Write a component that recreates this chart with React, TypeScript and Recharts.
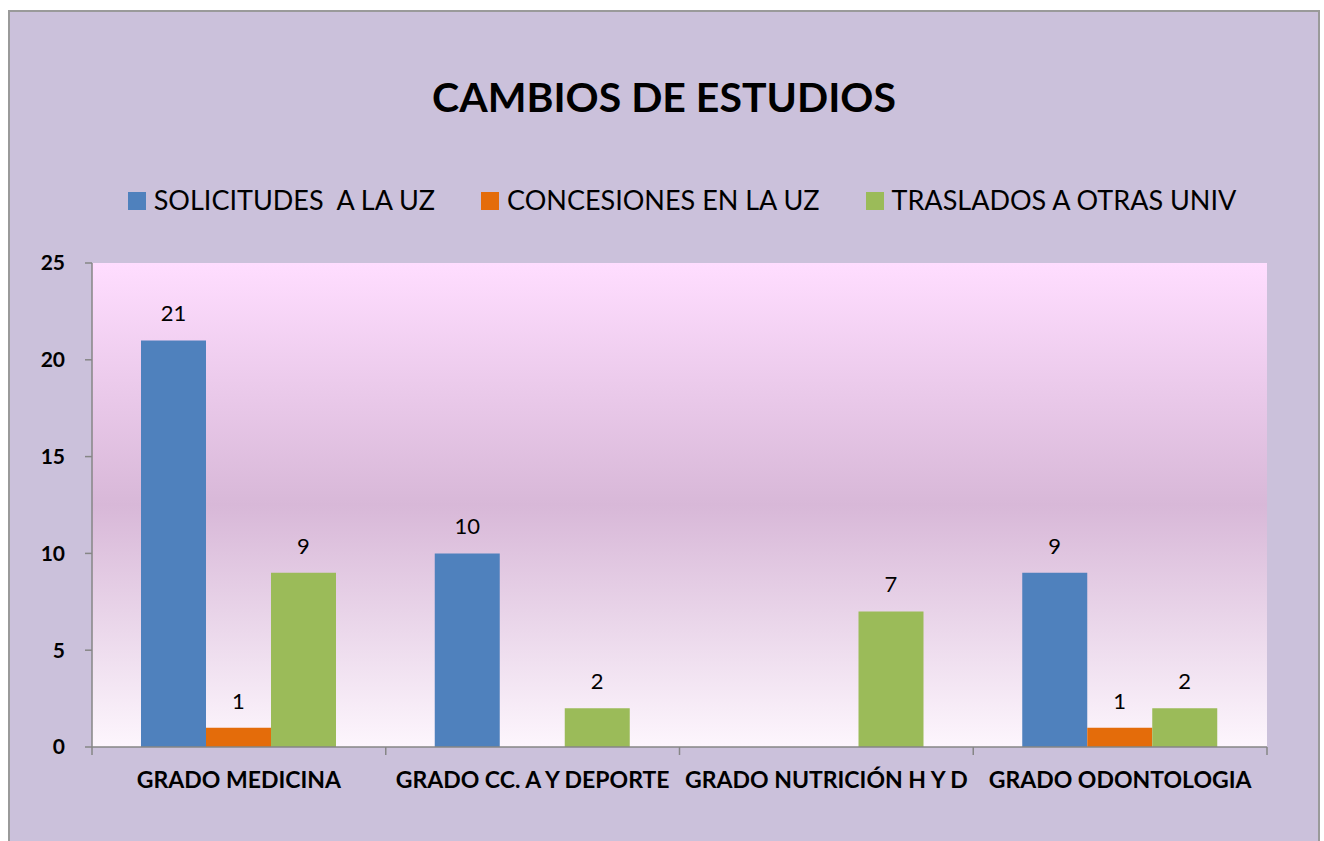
import React from 'react'
import { BarChart, Bar, XAxis, YAxis, CartesianGrid, Legend, LabelList } from 'recharts'

const categories = ['GRADO MEDICINA', 'GRADO CC. A Y DEPORTE', 'GRADO NUTRICIÓN H Y D', 'GRADO ODONTOLOGIA']
const solicitudes = [21, 10, null, 9]
const concesiones = [1, null, null, 1]
const traslados = [9, 2, 7, 2]
const yTicks = [0, 5, 10, 15, 20, 25]

const seriesNames = ['SOLICITUDES  A LA UZ', 'CONCESIONES EN LA UZ', 'TRASLADOS A OTRAS UNIV']
const colors = ['#4F81BD', '#E46C0A', '#9BBB59']

const data = categories.map((name, i) => ({
  name,
  solicitudes: solicitudes[i],
  concesiones: concesiones[i],
  traslados: traslados[i],
}))

const W = 1308
const H = 832
const legendH = 27
// legend sits in the top margin, recharts adds its height on top of this
const margin = { top: 251 - legendH, right: 51, left: 0, bottom: 40 }
const yAxisWidth = 82
const plotWidth = W - margin.left - margin.right - yAxisWidth
const band = plotWidth / categories.length
const font = 'Lato, "Open Sans", sans-serif'
const axisColor = '#868686'

// Excel-style ticks: marks sit between categories, label in the middle
const CategoryTick = (props: any) => {
  const { x, y, payload, index } = props
  const left = x - band / 2
  return (
    <g>
      <line x1={left} y1={y} x2={left} y2={y + 8} stroke={axisColor} strokeWidth={1.5} />
      {index === categories.length - 1 && (
        <line x1={x + band / 2} y1={y} x2={x + band / 2} y2={y + 8} stroke={axisColor} strokeWidth={1.5} />
      )}
      <text x={x} y={y + 41} textAnchor="middle" fontFamily={font} fontWeight={700} fontSize={23} fill="#000">
        {payload.value}
      </text>
    </g>
  )
}

const renderLegend = () => (
  <div style={{ display: 'flex', justifyContent: 'center', gap: 46, fontFamily: font, fontSize: 27, lineHeight: 1, paddingLeft: 36, height: legendH }}>
    {seriesNames.map((n, i) => (
      <span key={n} style={{ whiteSpace: 'pre', color: '#000' }}>
        <span style={{ display: 'inline-block', width: 18, height: 18, background: colors[i], marginRight: 8 }} />
        {n}
      </span>
    ))}
  </div>
)

const hideEmpty = (v: any) => (v === null || v === undefined ? '' : v)
const labelStyle = { fontFamily: font, fontSize: 22, fill: '#000' }

export default function App() {
  return (
    <div
      style={{
        position: 'fixed',
        left: 8,
        top: 10,
        width: W,
        height: 840,
        background: '#CBC1DB',
        borderLeft: '2px solid #9A9A9A',
        borderTop: '2px solid #9A9A9A',
        borderRight: '2px solid #9A9A9A',
      }}
    >
      <div style={{ position: 'relative', width: W, height: H }}>
        <div
          style={{
            position: 'absolute',
            top: 64,
            left: 0,
            width: W,
            textAlign: 'center',
            fontFamily: font,
            fontWeight: 700,
            fontSize: 41,
            lineHeight: 1,
            color: '#000',
            zIndex: 2,
          }}
        >
          CAMBIOS DE ESTUDIOS
        </div>
        <BarChart width={W} height={H} data={data} margin={margin} barCategoryGap={49} barGap={0}>
          <defs>
            <linearGradient id="plotBg" x1="0" y1="0" x2="0" y2="1">
              <stop offset="0%" stopColor="#FFDDFF" />
              <stop offset="50%" stopColor="#D8B8D8" />
              <stop offset="100%" stopColor="#FDF6FD" />
            </linearGradient>
          </defs>
          <CartesianGrid horizontal={false} vertical={false} fill="url(#plotBg)" />
          <XAxis
            dataKey="name"
            axisLine={{ stroke: axisColor, strokeWidth: 1.5 }}
            tickLine={false}
            tickSize={0}
            tickMargin={0}
            height={H - 251 - margin.bottom - 484}
            interval={0}
            tick={<CategoryTick />}
          />
          <YAxis
            width={yAxisWidth}
            domain={[0, 25]}
            ticks={yTicks}
            interval={0}
            axisLine={{ stroke: axisColor, strokeWidth: 1.5 }}
            tickLine={{ stroke: axisColor, strokeWidth: 1.5 }}
            tickSize={7}
            tickMargin={20}
            tick={{ fontFamily: font, fontWeight: 700, fontSize: 21, fill: '#000' }}
          />
          <Legend verticalAlign="top" content={renderLegend} wrapperStyle={{ top: 174, left: 0, width: W }} />
          <Bar dataKey="solicitudes" name={seriesNames[0]} fill={colors[0]} isAnimationActive={false}>
            <LabelList dataKey="solicitudes" position="top" offset={19} formatter={hideEmpty} style={labelStyle} />
          </Bar>
          <Bar dataKey="concesiones" name={seriesNames[1]} fill={colors[1]} isAnimationActive={false}>
            <LabelList dataKey="concesiones" position="top" offset={19} formatter={hideEmpty} style={labelStyle} />
          </Bar>
          <Bar dataKey="traslados" name={seriesNames[2]} fill={colors[2]} isAnimationActive={false}>
            <LabelList dataKey="traslados" position="top" offset={19} formatter={hideEmpty} style={labelStyle} />
          </Bar>
        </BarChart>
      </div>
    </div>
  )
}
